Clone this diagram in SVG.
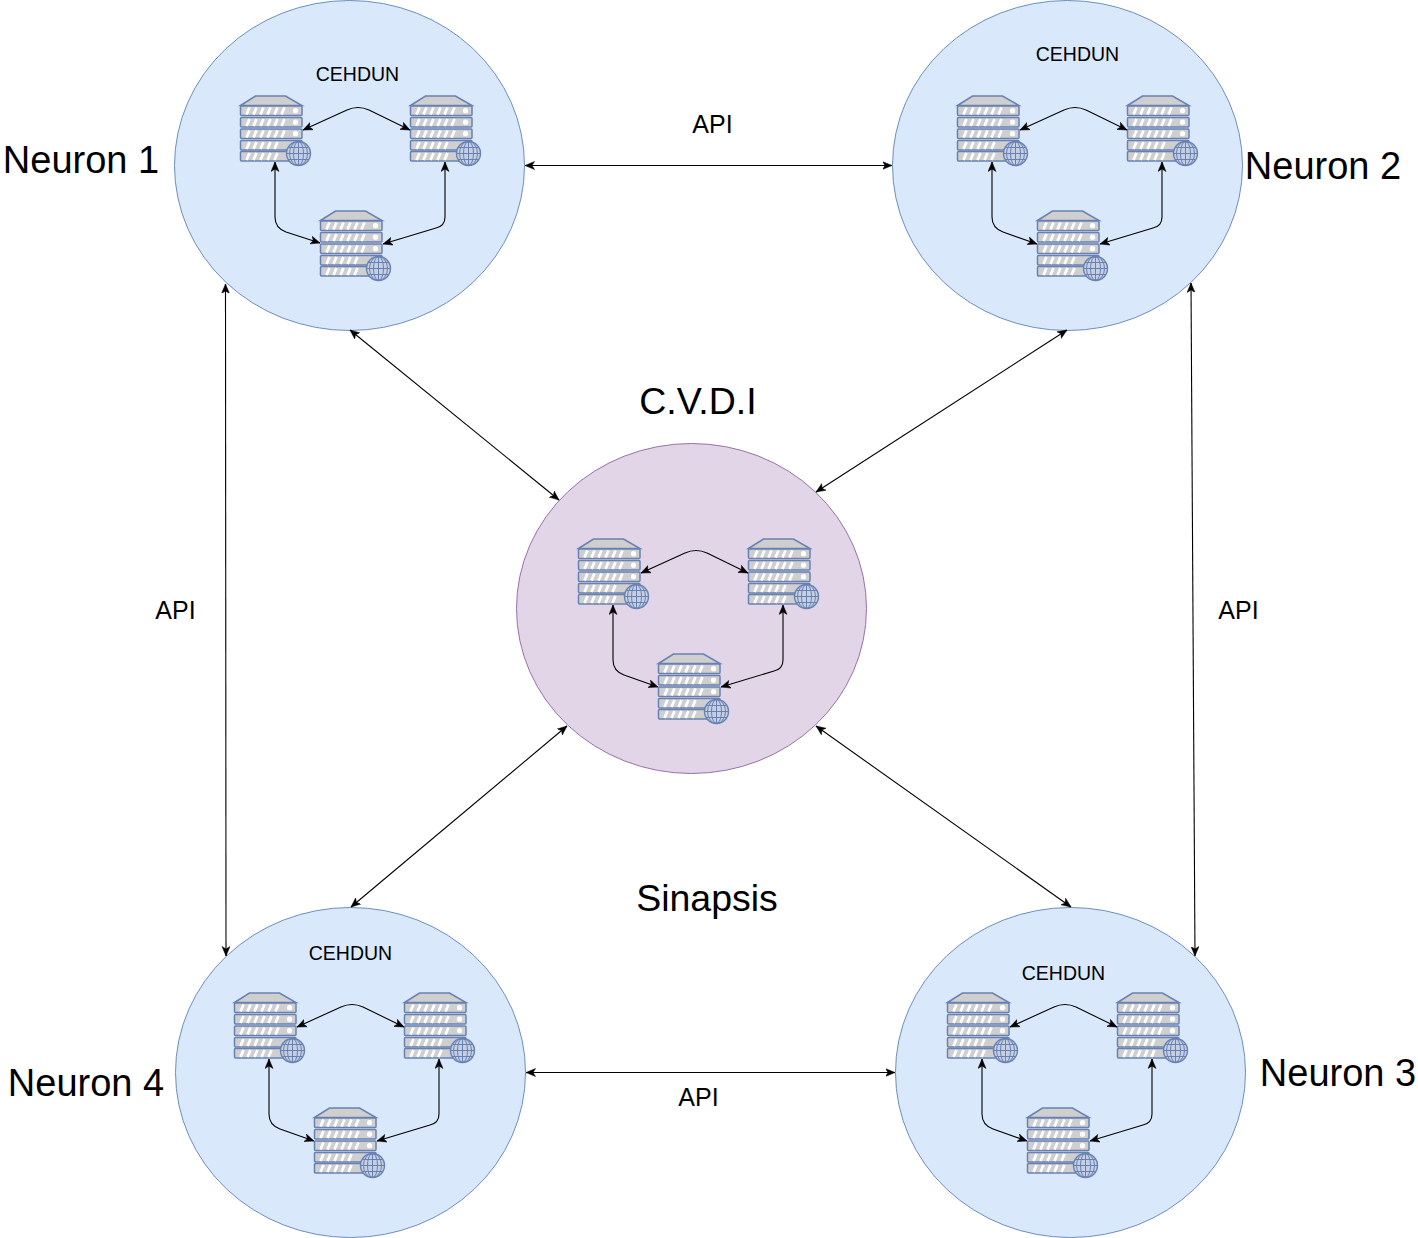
<svg xmlns="http://www.w3.org/2000/svg" width="1418" height="1238" viewBox="0 0 1418 1238">
<style>
text{font-family:"Liberation Sans",Arial,sans-serif;fill:#000;text-anchor:middle}
.big{font-size:38px}.big2{font-size:37.5px}.api{font-size:25px}.ce{font-size:19.5px}
.blue{fill:#dae8fc;stroke:#6c8ebf;stroke-width:1}
.pur{fill:#e1d5e7;stroke:#9673a6;stroke-width:1}
.c{fill:none;stroke:#000;stroke-width:1.1;marker-start:url(#a);marker-end:url(#a)}
.r{fill:#cfcfcf;stroke:#6881b3;stroke-width:1.500}
.w{stroke:#fff;stroke-width:2.700;fill:none}
.g{fill:none;stroke:#6881b3;stroke-width:1}
</style>
<defs>
<marker id="a" viewBox="0 0 10 9" refX="9.500" refY="4.500" markerWidth="10" markerHeight="9" markerUnits="userSpaceOnUse" orient="auto-start-reverse"><path d="M0 0.500L9.500 4.500L0 8.500L2.500 4.500Z" fill="#000" stroke="#000" stroke-width=".5"/></marker>
<g id="srv">
<g transform="translate(.5 .5)">
<path class="r" d="M0 10L15 0.500H45L61.500 10Z"/>
<rect class="r" x="0" y="10.500" width="61.500" height="9.500" rx="1"/>
<rect class="r" x="0" y="22" width="61.500" height="9.500" rx="1"/>
<rect class="r" x="0" y="33.500" width="61.500" height="9.500" rx="1"/>
<rect class="r" x="0" y="45" width="61.500" height="9.500" rx="1"/>
<rect class="r" x="0" y="56" width="61.500" height="9.500" rx="1"/>
<path class="w" d="M6 19L9 12M13 19L16 12M20 19L23 12M27 19L30 12M34 19L37 12M41 19L44 12"/>
<path class="w" d="M6 30.500L9 23.500M13 30.500L16 23.500M20 30.500L23 23.500M27 30.500L30 23.500M34 30.500L37 23.500M41 30.500L44 23.500"/>
<path class="w" d="M6 42L9 35M13 42L16 35M20 42L23 35M27 42L30 35M34 42L37 35M41 42L44 35"/>
<path class="w" d="M6 53.500L9 46.500M13 53.500L16 46.500M20 53.500L23 46.500M27 53.500L30 46.500M34 53.500L37 46.500"/>
<path class="w" d="M6 64.500L9 57.500M13 64.500L16 57.500M20 64.500L23 57.500M27 64.500L30 57.500M34 64.500L37 57.500"/>
<circle cx="55" cy="15.200" r="2.600" fill="#fff"/><circle cx="55" cy="26.700" r="2.600" fill="#fff"/><circle cx="55" cy="38.200" r="2.600" fill="#fff"/>
</g>
<circle cx="58.500" cy="58.500" r="12" fill="#c6cfe2" stroke="#6881b3" stroke-width="1.400"/>
<path class="g" d="M46.500 58.500H70.500M48 52.500H69M48 64.500H69M58.500 46.500V70.500"/>
<ellipse class="g" cx="58.500" cy="58.500" rx="5" ry="12"/><ellipse class="g" cx="58.500" cy="58.500" rx="9" ry="12"/>
</g>
</defs>

<g id="neuron-1"><ellipse class="blue" cx="349.500" cy="165.500" rx="175" ry="165"/><use href="#srv" x="240" y="95"/><use href="#srv" x="410" y="95"/><use href="#srv" x="320" y="210"/><text class="ce" x="357.500" y="81">CEHDUN</text><text class="big" x="81" y="173">Neuron 1</text></g>
<g id="neuron-2"><ellipse class="blue" cx="1067.500" cy="165.500" rx="175" ry="165"/><use href="#srv" x="957" y="95"/><use href="#srv" x="1127" y="95"/><use href="#srv" x="1037" y="210"/><text class="ce" x="1077.500" y="61">CEHDUN</text><text class="big" x="1323" y="179">Neuron 2</text></g>
<g id="cvdi"><ellipse class="pur" cx="691.500" cy="608.500" rx="175" ry="165"/><use href="#srv" x="578" y="538"/><use href="#srv" x="748" y="538"/><use href="#srv" x="658" y="653"/><text class="big2" x="698" y="414">C.V.D.I</text></g>
<g id="neuron-4"><ellipse class="blue" cx="350.500" cy="1072.500" rx="175" ry="165"/><use href="#srv" x="234" y="992"/><use href="#srv" x="404" y="992"/><use href="#srv" x="314" y="1107"/><text class="ce" x="350.500" y="960">CEHDUN</text><text class="big" x="86" y="1096">Neuron 4</text></g>
<g id="neuron-3"><ellipse class="blue" cx="1070.500" cy="1072.500" rx="175" ry="165"/><use href="#srv" x="947" y="992"/><use href="#srv" x="1117" y="992"/><use href="#srv" x="1027" y="1107"/><text class="ce" x="1063.500" y="980">CEHDUN</text><text class="big" x="1338" y="1086">Neuron 3</text></g>
<g id="sinapsis"><text class="big2" x="707" y="911">Sinapsis</text></g>

<g id="connectors">
<path class="c" d="M525 165.500H892"/>
<path class="c" d="M526 1072.500H895"/>
<path class="c" d="M226 956L225.500 284"/>
<path class="c" d="M1195 956L1191 283"/>
<path class="c" d="M350 330L559 500"/>
<path class="c" d="M1067 330L816 492"/>
<path class="c" d="M351 907L567 726"/>
<path class="c" d="M1071 907L816 726"/>
<path class="c" d="M303 130L347 110Q358 105 369 110L410 130"/>
<path class="c" d="M275 162V217Q275 228 286 232L320 243"/>
<path class="c" d="M445 162V217Q445 226 436 228L383 244"/>
<path class="c" d="M1020 130L1064 110Q1075 105 1086 110L1127 130"/>
<path class="c" d="M992 162V217Q992 228 1003 232L1037 244"/>
<path class="c" d="M1162 162V217Q1162 226 1153 228L1100 244"/>
<path class="c" d="M641 573L685 553Q696 548 707 553L748 573"/>
<path class="c" d="M613 605V660Q613 671 624 675L658 687"/>
<path class="c" d="M783 605V660Q783 669 774 671L721 687"/>
<path class="c" d="M297 1027L341 1007Q352 1002 363 1007L404 1027"/>
<path class="c" d="M269 1059V1114Q269 1125 280 1129L314 1141"/>
<path class="c" d="M439 1059V1114Q439 1123 430 1125L377 1141"/>
<path class="c" d="M1010 1027L1054 1007Q1065 1002 1076 1007L1117 1027"/>
<path class="c" d="M982 1059V1114Q982 1125 993 1129L1027 1141"/>
<path class="c" d="M1152 1059V1114Q1152 1123 1143 1125L1090 1141"/>
</g>
<g id="api-labels">
<text class="api" x="712.500" y="133">API</text><text class="api" x="175.500" y="619">API</text><text class="api" x="1238.500" y="619">API</text><text class="api" x="698.500" y="1106">API</text>
</g>
</svg>
